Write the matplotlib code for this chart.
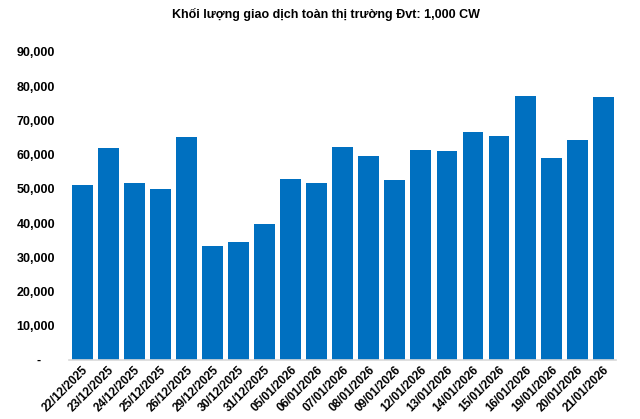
import matplotlib
matplotlib.use("Agg")
import matplotlib.pyplot as plt
from matplotlib.ticker import FuncFormatter

plt.rcParams['font.family'] = ['Liberation Sans', 'DejaVu Sans']

dates = ["22/12/2025", "23/12/2025", "24/12/2025", "25/12/2025", "26/12/2025",
         "29/12/2025", "30/12/2025", "31/12/2025", "05/01/2026", "06/01/2026",
         "07/01/2026", "08/01/2026", "09/01/2026", "12/01/2026", "13/01/2026",
         "14/01/2026", "15/01/2026", "16/01/2026", "19/01/2026", "20/01/2026",
         "21/01/2026"]
volume = [51100, 61900, 51700, 49900, 65100,
          33300, 34400, 39700, 52800, 51700,
          62200, 59500, 52500, 61300, 61000,
          66500, 65400, 77000, 59000, 64200,
          76800]

title = "Khối lượng giao dịch toàn thị trường Đvt: 1,000 CW"
bar_color = "#0070C0"

fig = plt.figure(figsize=(6.4, 4.19), dpi=100)
ax = fig.add_axes([0.108, 0.141, 0.855, 0.735])

x = range(len(dates))
ax.bar(x, volume, width=0.8, color=bar_color)

ax.set_xlim(-0.5, len(dates) - 0.5)
ax.set_ylim(0, 90000)
ax.set_yticks(range(0, 90001, 10000))

def fmt(v, pos):
    if v == 0:
        return "-    "
    return f"{int(v):,}"

ax.yaxis.set_major_formatter(FuncFormatter(fmt))
ax.set_xticks(list(x))
ax.set_xticklabels(dates, rotation=45, ha='right', va='top',
                   rotation_mode='anchor', fontsize=8.5, fontweight='bold')
for lbl in ax.get_yticklabels():
    lbl.set_fontweight('bold')
    lbl.set_fontsize(9)

ax.tick_params(axis='y', length=0, pad=10)
ax.tick_params(axis='x', length=0, pad=3)

for s in ['top', 'right', 'left']:
    ax.spines[s].set_visible(False)
ax.spines['bottom'].set_color('#d9d9d9')
ax.spines['bottom'].set_linewidth(1.2)

fig.text(0.51, 0.965, title, ha='center', va='center',
         fontsize=9, fontweight='bold')

fig.savefig("out.png", dpi=100)
